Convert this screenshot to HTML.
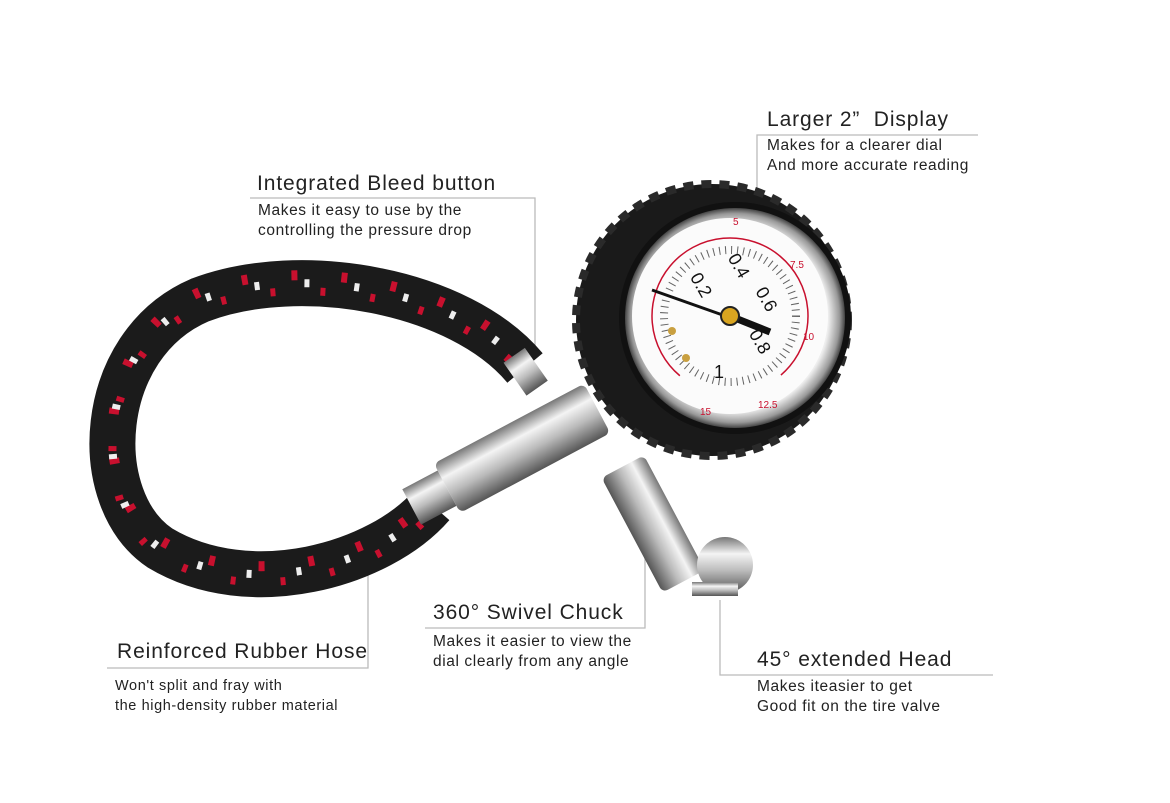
<!DOCTYPE html>
<html><head><meta charset="utf-8"><style>
html,body{margin:0;padding:0;background:#fff;}
body{width:1170px;height:803px;overflow:hidden;position:relative;font-family:"Liberation Sans","DejaVu Sans",sans-serif;color:#222;}
.t{position:absolute;font-size:21px;letter-spacing:0.9px;white-space:nowrap;}
.s{position:absolute;font-size:15.5px;letter-spacing:0.6px;line-height:20px;white-space:nowrap;}
</style></head><body>
<svg width="1170" height="803" style="position:absolute;left:0;top:0">
<defs>
<linearGradient id="ch" x1="0" y1="0" x2="0" y2="1">
<stop offset="0" stop-color="#777"/><stop offset="0.3" stop-color="#f4f4f4"/><stop offset="0.6" stop-color="#bbb"/><stop offset="1" stop-color="#555"/></linearGradient>
<radialGradient id="ring" cx="0.5" cy="0.5" r="0.5"><stop offset="0.85" stop-color="#eee"/><stop offset="0.95" stop-color="#999"/><stop offset="1" stop-color="#444"/></radialGradient>
</defs>
<g stroke="#bbb" stroke-width="1.3" fill="none">
<polyline points="757,215 757,135 978,135"/>
<polyline points="535,350 535,198 250,198"/>
<polyline points="368,575 368,668 107,668"/>
<polyline points="645,530 645,628 425,628"/>
<polyline points="720,600 720,675 993,675"/>
</g>
<path d="M525 368 C460 290,300 262,200 300 C95 345,88 500,160 548 C250 602,380 565,432 505" stroke="#1b1b1b" stroke-width="46" fill="none"/>
<path d="M525 368 C460 290,300 262,200 300 C95 345,88 500,160 548 C250 602,380 565,432 505" stroke="#c8102e" stroke-width="10" fill="none" stroke-dasharray="6 44" transform="translate(0,-8)"/>
<path d="M525 368 C460 290,300 262,200 300 C95 345,88 500,160 548 C250 602,380 565,432 505" stroke="#eee" stroke-width="8" fill="none" stroke-dasharray="5 45" stroke-dashoffset="12"/>
<path d="M525 368 C460 290,300 262,200 300 C95 345,88 500,160 548 C250 602,380 565,432 505" stroke="#c8102e" stroke-width="8" fill="none" stroke-dasharray="5 45" stroke-dashoffset="28" transform="translate(0,8)"/>
<g transform="rotate(-28 500 460)">
<rect x="400" y="440" width="40" height="40" fill="url(#ch)"/>
<rect x="440" y="432" width="170" height="56" rx="6" fill="url(#ch)"/>
</g>
<g transform="rotate(-35 540 380)"><rect x="520" y="345" width="26" height="40" fill="url(#ch)"/></g>
<g transform="rotate(62 650 520)"><rect x="590" y="495" width="130" height="48" rx="6" fill="url(#ch)"/></g>
<circle cx="725" cy="565" r="28" fill="url(#ch)"/>
<rect x="692" y="582" width="46" height="14" fill="url(#ch)"/>
<circle cx="712" cy="320" r="136" fill="#1a1a1a" stroke="#2a2a2a" stroke-width="8" stroke-dasharray="10 8"/>
<circle cx="735" cy="318" r="116" fill="#111"/>
<circle cx="735" cy="318" r="110" fill="url(#ring)"/>
<circle cx="730" cy="316" r="98" fill="#fbfbfb"/>
<circle cx="730" cy="316" r="78" fill="none" stroke="#c8102e" stroke-width="1.5" stroke-dasharray="380 110" transform="rotate(130 730 316)"/>
<circle cx="730" cy="316" r="66" fill="none" stroke="#222" stroke-width="8" stroke-dasharray="1 5" opacity="0.7"/>
<g font-size="18" fill="#111" font-family="Liberation Sans">
<text x="688" y="290" transform="rotate(60 700 285)">0.2</text>
<text x="725" y="268" transform="rotate(60 735 265)">0.4</text>
<text x="750" y="300" transform="rotate(60 760 300)">0.6</text>
<text x="742" y="345" transform="rotate(60 755 345)">0.8</text>
<text x="714" y="378">1</text>
</g>
<g font-size="10" fill="#c8102e"><text x="733" y="225">5</text><text x="790" y="268">7.5</text><text x="803" y="340">10</text><text x="758" y="408">12.5</text><text x="700" y="415">15</text></g>
<line x1="652" y1="290" x2="765" y2="330" stroke="#111" stroke-width="3"/>
<line x1="730" y1="316" x2="770" y2="332" stroke="#111" stroke-width="7"/>
<circle cx="730" cy="316" r="9" fill="#d9a520" stroke="#222" stroke-width="2"/>
<circle cx="672" cy="331" r="4" fill="#c9a040"/><circle cx="686" cy="358" r="4" fill="#c9a040"/>
</svg>
<div class="t" style="left:767px;top:108px">Larger 2”&nbsp; Display</div>
<div class="s" style="left:767px;top:136px">Makes for a clearer dial<br>And more accurate reading</div>
<div class="t" style="left:257px;top:172px">Integrated Bleed button</div>
<div class="s" style="left:258px;top:201px">Makes it easy to use by the<br>controlling the pressure drop</div>
<div class="t" style="left:117px;top:640px">Reinforced Rubber Hose</div>
<div class="s" style="left:115px;top:676px;font-size:14.5px">Won't split and fray with<br>the high-density rubber material</div>
<div class="t" style="left:433px;top:601px">360° Swivel Chuck</div>
<div class="s" style="left:433px;top:632px">Makes it easier to view the<br>dial clearly from any angle</div>
<div class="t" style="left:757px;top:648px">45° extended Head</div>
<div class="s" style="left:757px;top:677px">Makes iteasier to get<br>Good fit on the tire valve</div>
</body></html>
